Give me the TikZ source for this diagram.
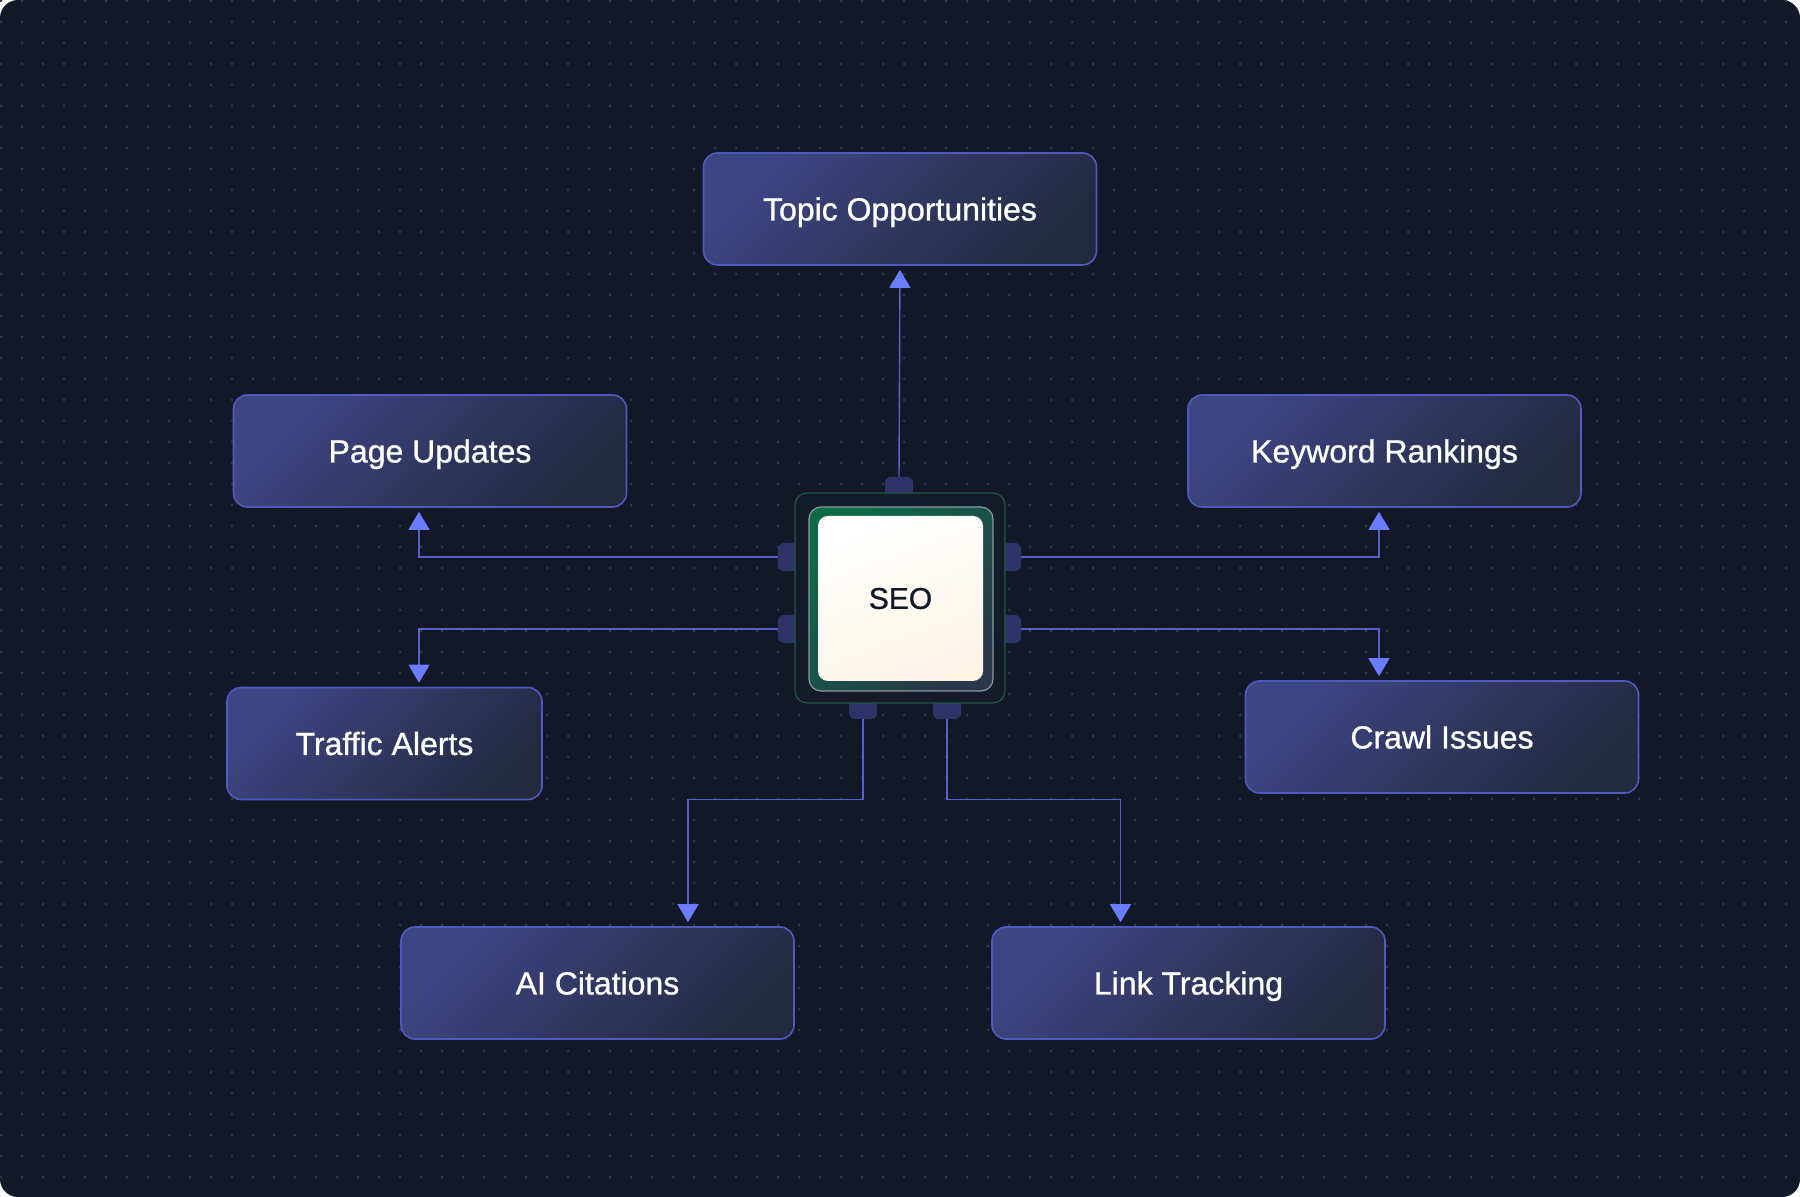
\documentclass[tikz,border=0pt]{standalone}
\usepackage{fontspec}
\setmainfont{Liberation Sans}
\newfontfamily\boxfont{Liberation Sans}[FakeBold=0.9]
\usetikzlibrary{arrows.meta,calc}
\definecolor{bg}{HTML}{121827}
\definecolor{dotc}{HTML}{30384B}
\definecolor{boxtl}{HTML}{3D4684}
\definecolor{boxbr}{HTML}{232A40}
\definecolor{boxline}{HTML}{4F5AC0}
\definecolor{connc}{HTML}{5860CC}
\definecolor{arrc}{HTML}{6A7DFF}
\definecolor{pincol}{HTML}{2C3468}
\definecolor{chipbg}{HTML}{141B2B}
\definecolor{chipedge}{HTML}{1E5A48}
\definecolor{chipgreen}{HTML}{0E6A46}
\definecolor{chipslate}{HTML}{29384A}
\definecolor{chiprim}{HTML}{8C9AA2}
\definecolor{seotext}{HTML}{111827}
\begin{document}
\begin{tikzpicture}[x=0.5pt,y=-0.5pt,
  boxnode/.style={draw=boxline, line width=0.8pt, rounded corners=7pt,
    top color=boxtl, bottom color=boxbr, shading angle=45,
    minimum width=196.5pt, minimum height=56pt, inner sep=0pt,
    text height=11.45pt, text depth=0pt,
    text=white, font=\boxfont\fontsize{16}{19}\selectfont},
  chippin/.style={fill=pincol, rounded corners=3pt, minimum width=14pt,
    minimum height=14pt, inner sep=0pt},
  conn/.style={draw=connc, line width=0.7pt,
    -{Triangle[width=10.5pt,length=9pt,color=arrc]}, shorten >=2pt}]
\useasboundingbox (0,0) rectangle (1800,1197);
\fill[white] (0,0) rectangle (1800,1197);
\fill[bg, rounded corners=9pt] (0,0) rectangle (1800,1197);
\foreach \i in {0,...,85}{
  \fill[dotc] \foreach \j in {0,...,56}{ (\i*21+1,\j*21+1) circle[radius=0.75pt] };
}

% boxes
\node[boxnode] (topic) at (900,209) {Topic Opportunities};
\node[boxnode] (page) at (430,451) {Page Updates};
\node[boxnode] (keyword) at (1384.5,451) {Keyword Rankings};
\node[boxnode, minimum width=157.5pt] (traffic) at (384.5,743.5) {Traffic Alerts};
\node[boxnode] (crawl) at (1442,737) {Crawl Issues};
\node[boxnode] (ai) at (597.5,983) {AI Citations};
\node[boxnode] (link) at (1188.5,983) {Link Tracking};

% pins
\node[chippin] (pT) at (899,491) {};
\node[chippin] (pL1) at (792,557) {};
\node[chippin] (pL2) at (792,629) {};
\node[chippin] (pR1) at (1007,557) {};
\node[chippin] (pR2) at (1007,629) {};
\node[chippin] (pB1) at (863,705) {};
\node[chippin] (pB2) at (947,705) {};

% connectors
\draw[conn] (pT.north) -- (topic.south);
\draw[conn] (pL1.west) -| ($(page.south)+(-11,0)$);
\draw[conn] (pL2.west) -| ($(traffic.north)+(34.5,0)$);
\draw[conn] (pR1.east) -| ($(keyword.south)+(-5.5,0)$);
\draw[conn] (pR2.east) -| ($(crawl.north)+(-63,0)$);
\draw[conn] (pB1.south) -- ++(0,80) -| ($(ai.north)+(90.5,0)$);
\draw[conn] (pB2.south) -- ++(0,80) -| ($(link.north)+(-68,0)$);

% chip
\node[draw=chipedge, line width=0.6pt, fill=chipbg, rounded corners=6pt,
  minimum size=105pt, inner sep=0pt] (chip) at (900,598) {};
\node[draw=chiprim, line width=0.6pt, rounded corners=6pt,
  top color=chipgreen, bottom color=chipslate, shading angle=45,
  minimum size=92pt, inner sep=0pt] (chipin) at (901,599) {};
\node[rounded corners=5pt, top color=white, middle color={rgb,255:red,252;green,242;blue,246},
  bottom color={rgb,255:red,253;green,245;blue,230}, shading angle=20,
  minimum size=82.5pt, inner sep=0pt, text=seotext,
  font=\boxfont\fontsize{15}{18}\selectfont] (seo) at (900.5,598.5) {SEO};
\end{tikzpicture}
\end{document}
